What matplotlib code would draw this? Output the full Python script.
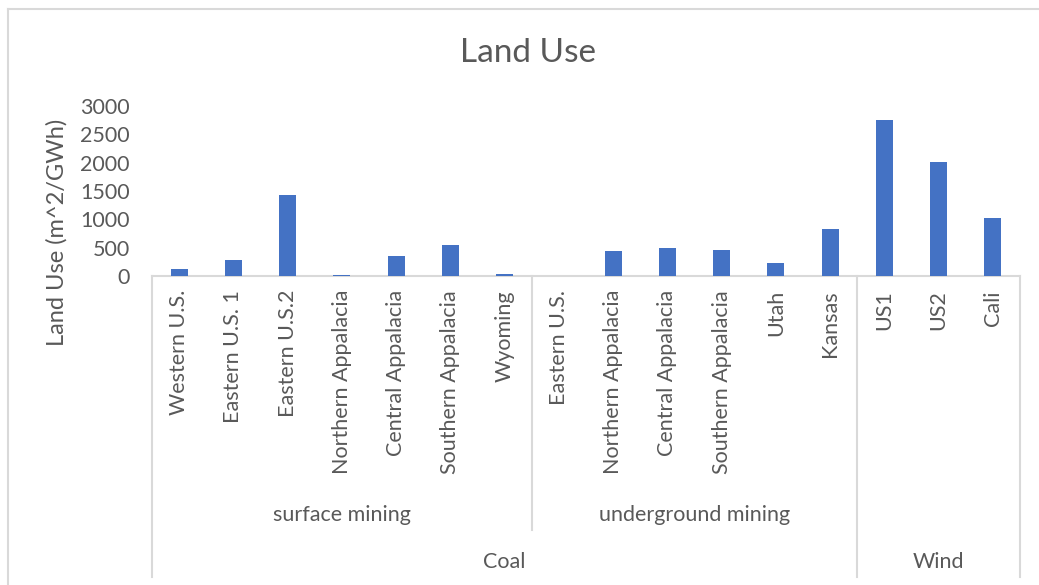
import matplotlib
matplotlib.use("Agg")
import matplotlib.pyplot as plt
import matplotlib.transforms as mtransforms
from matplotlib.lines import Line2D

# Land use per GWh, grouped by source and mining type
sites = ["Western U.S.", "Eastern U.S. 1", "Eastern U.S.2", "Northern Appalacia",
         "Central Appalacia", "Southern Appalacia", "Wyoming",
         "Eastern U.S.", "Northern Appalacia", "Central Appalacia",
         "Southern Appalacia", "Utah", "Kansas",
         "US1", "US2", "Cali"]
land_use = [118, 290, 1421, 25, 348, 555, 30,
            0, 449, 495, 460, 224, 825,
            2747, 2010, 1015]
subgroups = ["surface mining", "underground mining", ""]
subgroup_sizes = [7, 6, 3]
groups = ["Coal", "Wind"]
group_sizes = [13, 3]
yticks = [0, 500, 1000, 1500, 2000, 2500, 3000]

text_color = "#595959"
line_color = "#D9D9D9"
bar_color = "#4472C4"
font = "Lato"

W, H = 1039, 585
fig = plt.figure(figsize=(W / 100, H / 100), dpi=100)
plt.rcParams["font.family"] = [font, "DejaVu Sans"]


def fy(py):
    return 1 - py / H


# plot area in pixel coords
left, right, base, top = 152, 1020, 276, 106
ax = fig.add_axes([left / W, (H - base) / H, (right - left) / W, (base - top) / H])

x = list(range(len(sites)))
ax.bar(x, land_use, width=0.31, color=bar_color, zorder=3)
ax.set_xlim(-0.5, len(sites) - 0.5)
ax.set_ylim(0, 3000)
ax.set_yticks(yticks)
ax.set_yticklabels([str(v) for v in yticks], fontsize=15.5, color=text_color)
ax.tick_params(axis="y", length=0, pad=16)
ax.set_xticks([])
for s in ["top", "right", "left"]:
    ax.spines[s].set_visible(False)
ax.spines["bottom"].set_color(line_color)
ax.spines["bottom"].set_linewidth(1.5)

fig.text(528 / W, fy(53), "Land Use", ha="center", va="center",
         fontsize=24, color=text_color)
fig.text(57 / W, fy(232), "Land Use (m^2/GWh)", rotation=90, ha="center",
         va="center", fontsize=17, color=text_color)

# multi-level category axis
trans = mtransforms.blended_transform_factory(ax.transData, fig.transFigure)

for xi, name in zip(x, sites):
    ax.text(xi, fy(290), name, rotation=90, ha="center", va="top",
            fontsize=15.5, color=text_color, transform=trans)

start = -0.5
for name, n in zip(subgroups, subgroup_sizes):
    if name:
        ax.text(start + n / 2, fy(515), name, ha="center", va="center",
                fontsize=15.5, color=text_color, transform=trans)
    start += n

start = -0.5
for name, n in zip(groups, group_sizes):
    ax.text(start + n / 2, fy(562), name, ha="center", va="center",
            fontsize=15.5, color=text_color, transform=trans)
    start += n

# separators: group edges run full depth, subgroup edges stop above group row
group_edges = [-0.5]
for n in group_sizes:
    group_edges.append(group_edges[-1] + n)
sub_edges = [-0.5]
for n in subgroup_sizes:
    sub_edges.append(sub_edges[-1] + n)
for e in sub_edges:
    if e in group_edges:
        continue
    ax.add_line(Line2D([e, e], [fy(base), fy(530)], color=line_color, lw=1.5,
                       transform=trans, clip_on=False))
for e in group_edges:
    ax.add_line(Line2D([e, e], [fy(base), fy(577)], color=line_color, lw=1.5,
                       transform=trans, clip_on=False))

# chart outline
fig.add_artist(Line2D([7.5 / W, 7.5 / W], [0, fy(9)], color=line_color, lw=1.5))
fig.add_artist(Line2D([7.5 / W, 1], [fy(9), fy(9)], color=line_color, lw=1.5))

fig.savefig("out.png", dpi=100, facecolor="white")
